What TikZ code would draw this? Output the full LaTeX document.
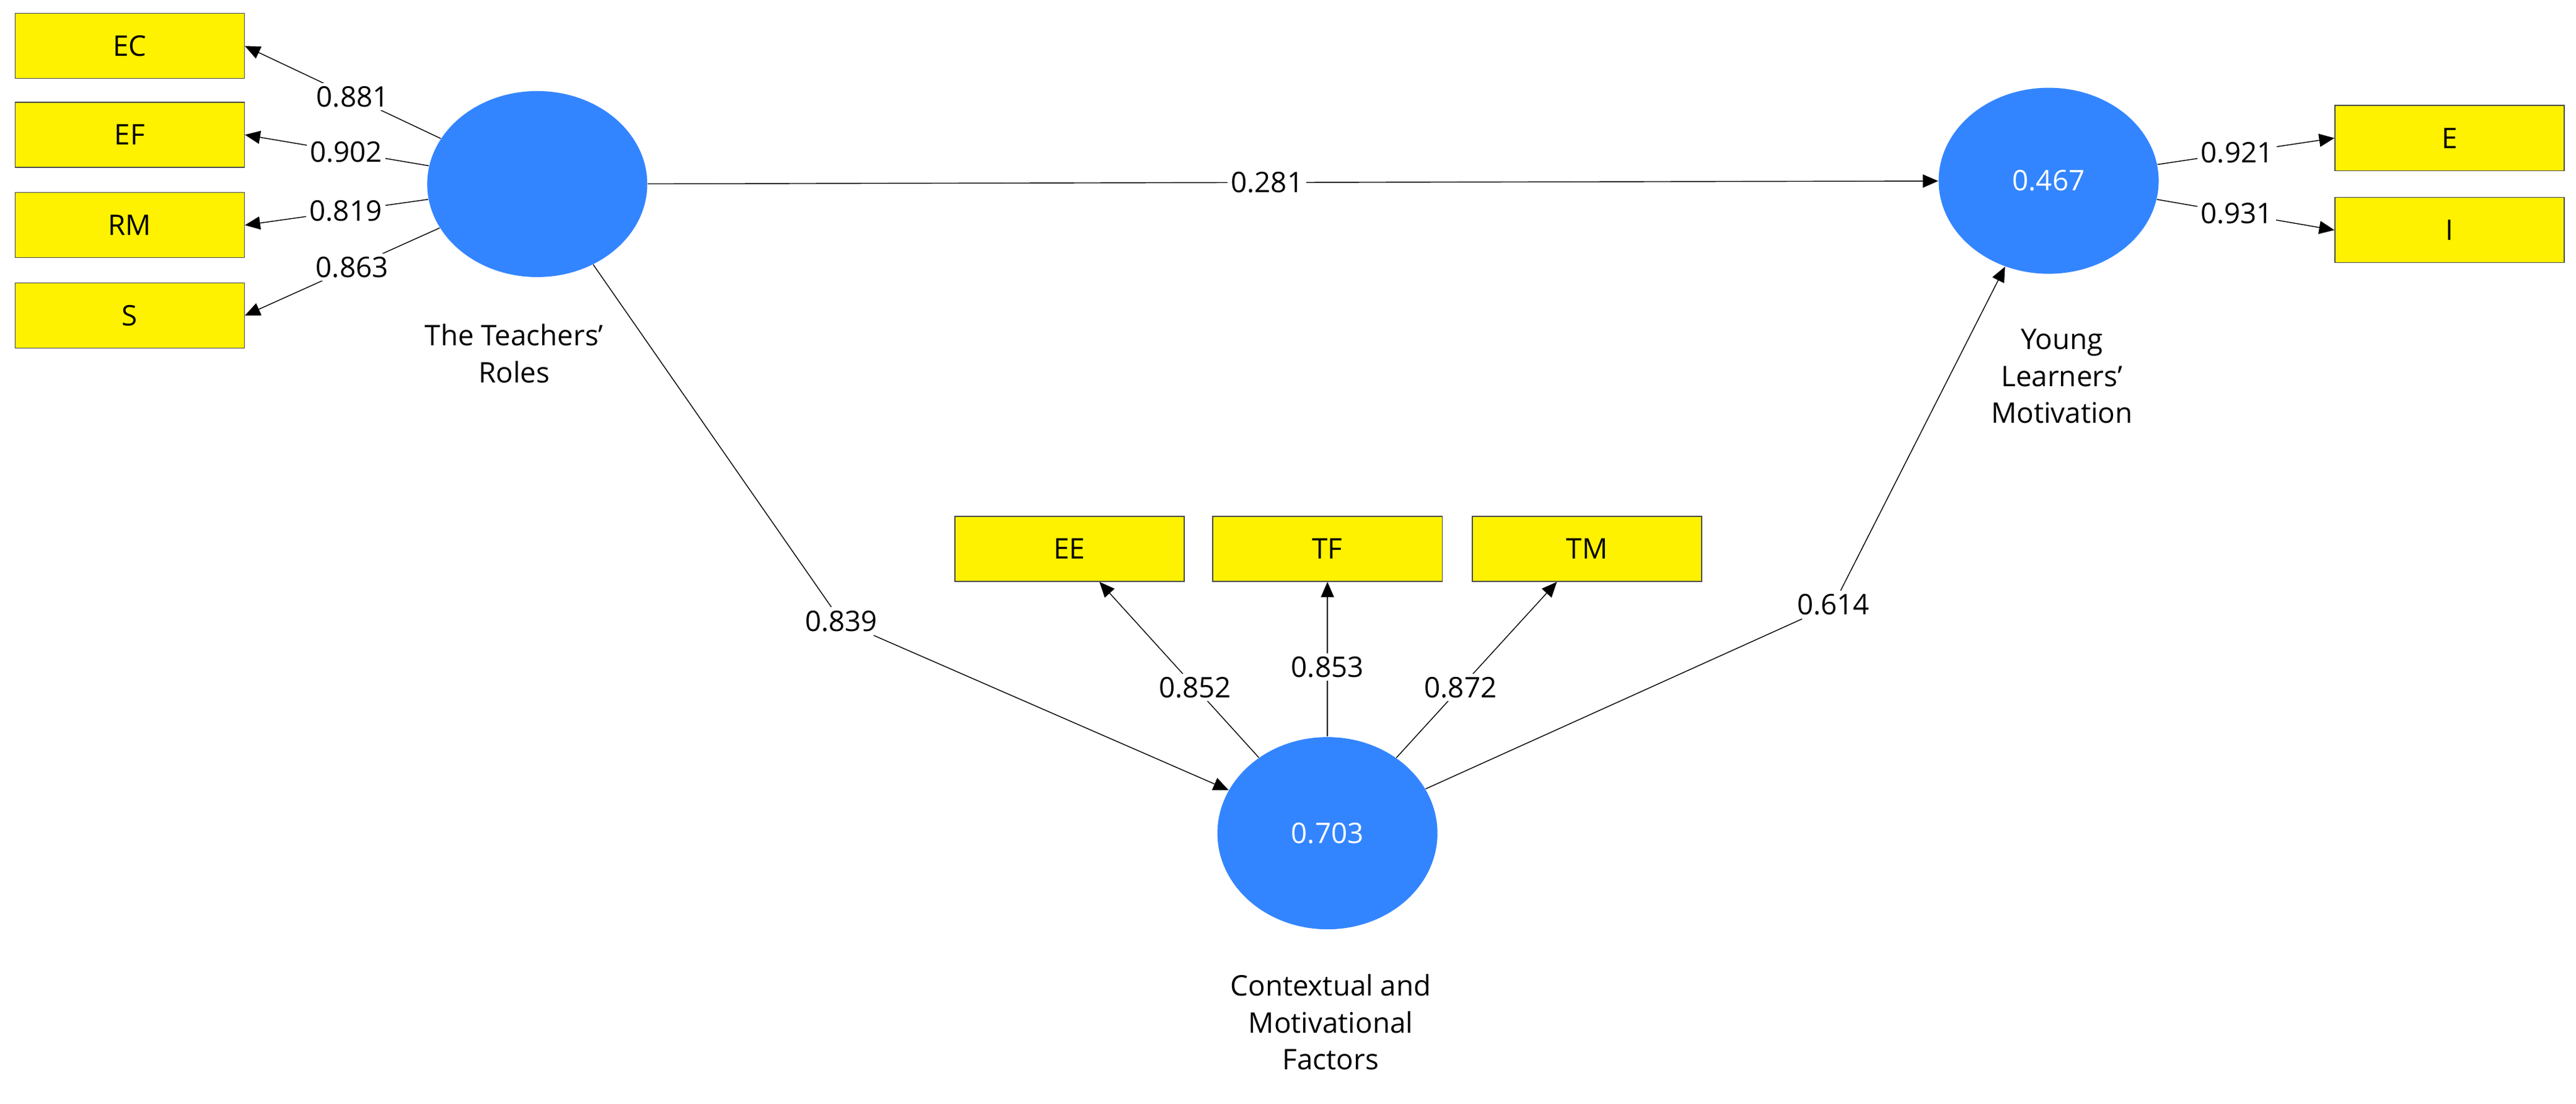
\documentclass[tikz,border=0pt]{standalone}
\usepackage{fontspec}
\setmainfont{Open Sans}
\usetikzlibrary{arrows.meta,shapes.geometric}
\begin{document}
\begin{tikzpicture}[x=0.02651cm,y=-0.02651cm,
 font=\fontsize{13}{16}\selectfont,
 ind/.style={draw=black!70,fill=yellow,minimum width=3.7cm,minimum height=1.05cm,inner sep=0pt},
 lat/.style={ellipse,fill=blue!60!cyan!80!white,minimum width=3.55cm,minimum height=3.0cm,text=white,inner sep=0pt},
 arr/.style={-{Triangle[length=7pt,width=6pt]},black},
 lab/.style={fill=white,inner sep=1.5pt},
 captxt/.style={align=center,font=\fontsize{13}{17}\selectfont}]
\useasboundingbox (0,0) rectangle (1568,671.5);
\node[ind] (EC) at (79,28) {EC};
\node[ind] (EF) at (79,82) {EF};
\node[ind] (RM) at (79,137) {RM};
\node[ind] (S) at (79,192) {S};
\node[ind] (E) at (1491,84) {E};
\node[ind] (I) at (1491,140) {I};
\node[ind] (EE) at (651,334) {EE};
\node[ind] (TF) at (808,334) {TF};
\node[ind] (TM) at (966,334) {TM};
\node[lat] (T) at (327,112) {};
\node[lat] (Y) at (1247,110) {0.467};
\node[lat,minimum height=3.1cm] (C) at (808,507) {0.703};
\node[captxt] (tl) at (313,215) {The Teachers'\\Roles};
\node[captxt] (yl) at (1255,229) {Young\\Learners'\\Motivation};
\node[captxt] (cl) at (810,622) {Contextual and\\Motivational\\Factors};
\draw[arr] (T) -- node[lab,pos=0.45]{0.881} (EC.east);
\draw[arr] (T) -- node[lab,pos=0.45]{0.902} (EF.east);
\draw[arr] (T) -- node[lab,pos=0.45]{0.819} (RM.east);
\draw[arr] (T) -- node[lab,pos=0.45]{0.863} (S.east);
\draw[arr] (Y) -- node[lab,pos=0.45]{0.921} (E.west);
\draw[arr] (Y) -- node[lab,pos=0.45]{0.931} (I.west);
\draw[arr] (T) -- node[lab,pos=0.48]{0.281} (Y);
\node[lab] (l839) at (512,378) {0.839};
\node[lab] (l614) at (1116,368) {0.614};
\draw (T) -- (l839);
\draw[arr] (l839) -- (C);
\draw (C) -- (l614);
\draw[arr] (l614) -- (Y);
\draw[arr] (C) -- node[lab,pos=0.4]{0.852} (EE);
\draw[arr] (C) -- node[lab,pos=0.45]{0.853} (TF);
\draw[arr] (C) -- node[lab,pos=0.4]{0.872} (TM);
\end{tikzpicture}
\end{document}
